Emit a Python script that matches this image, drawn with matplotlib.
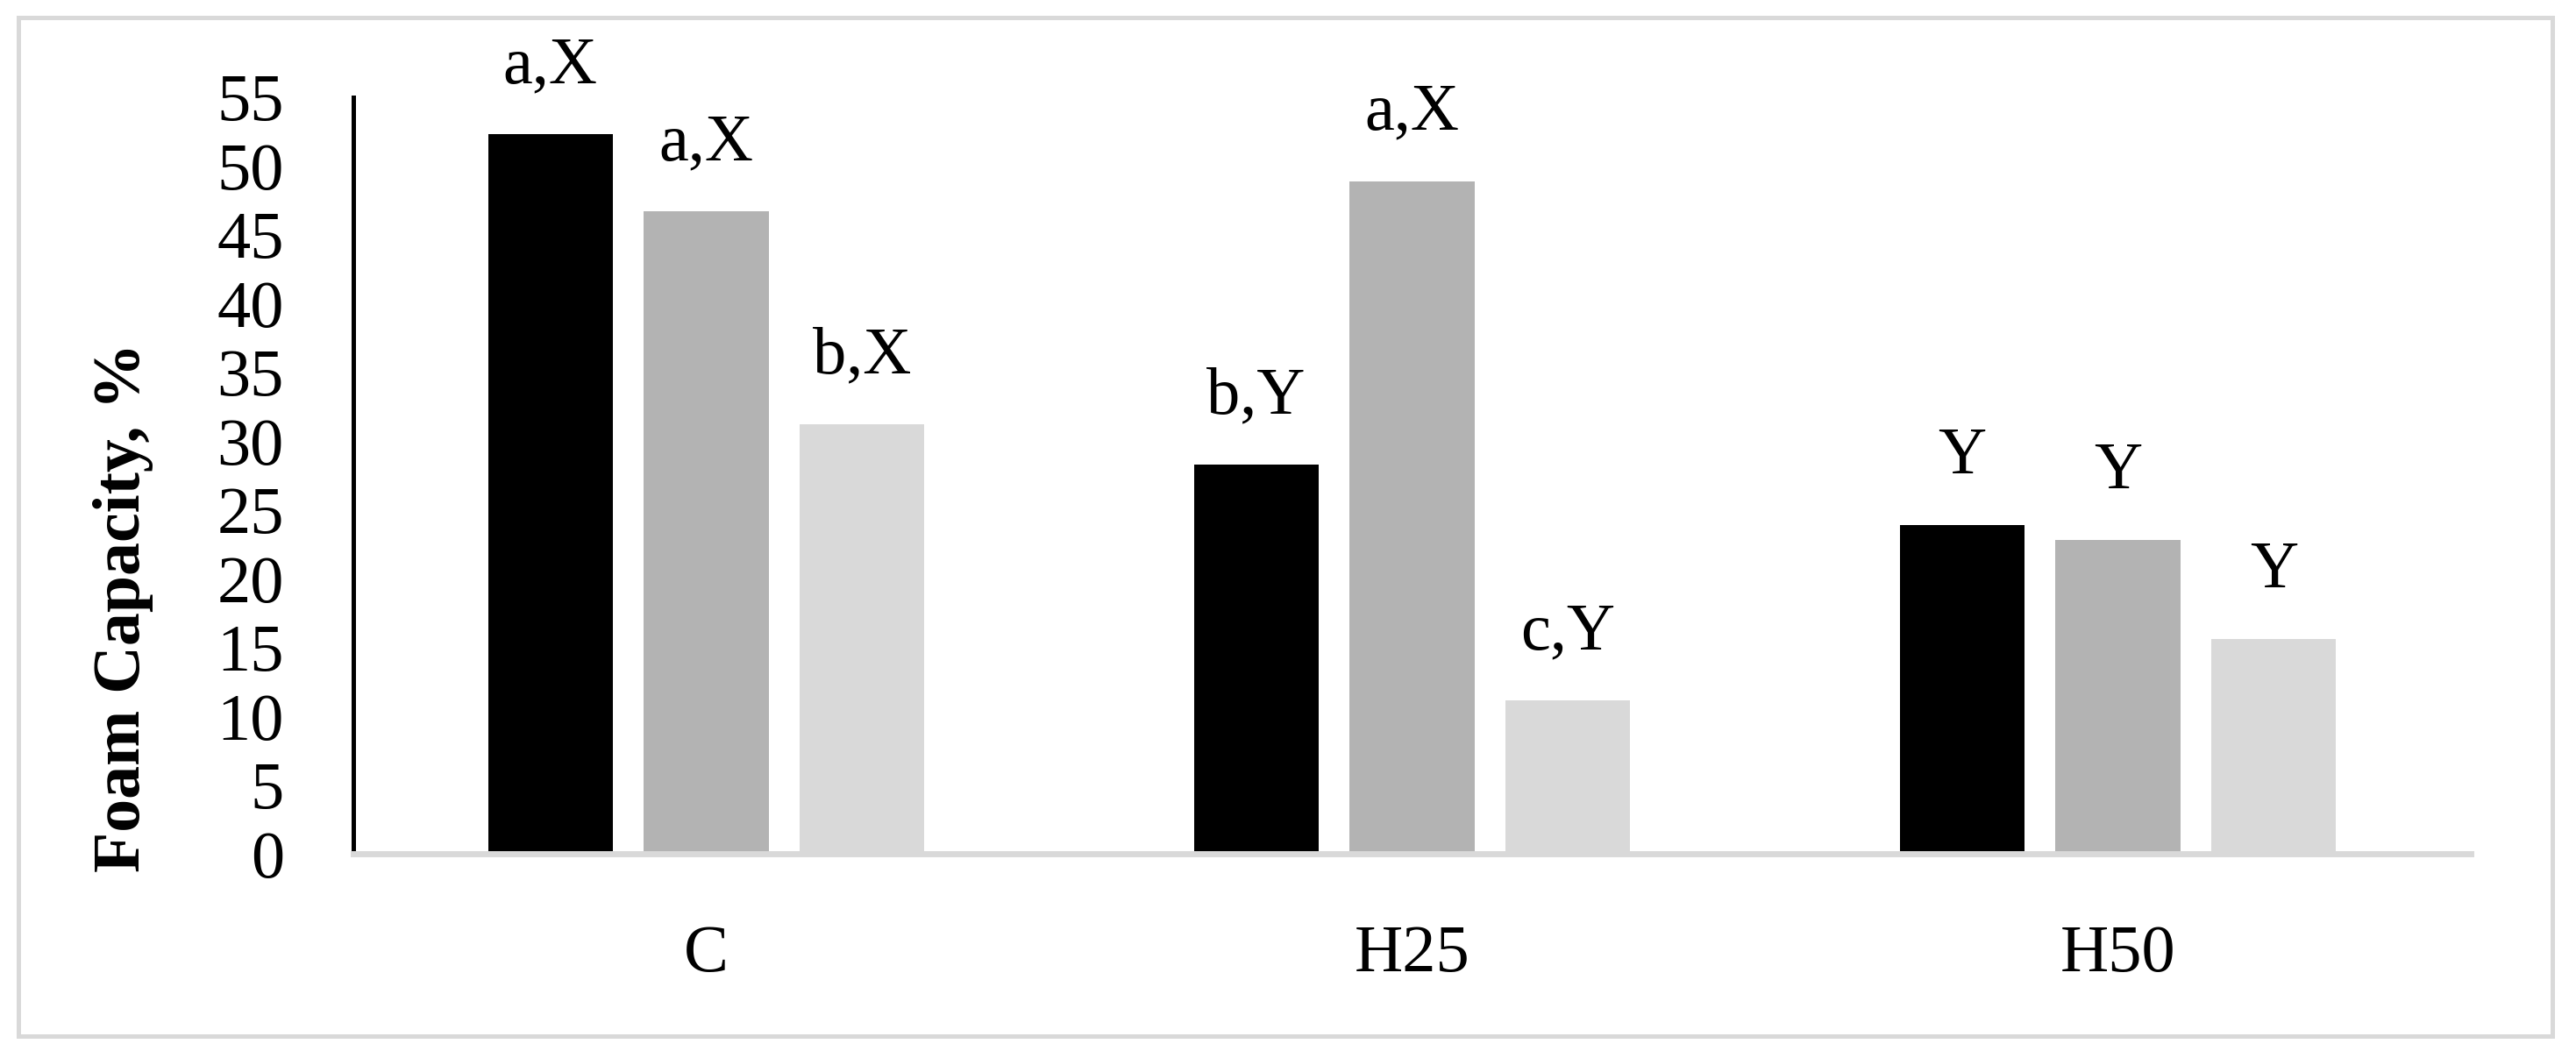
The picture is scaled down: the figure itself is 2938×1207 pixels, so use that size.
import matplotlib
matplotlib.use("Agg")
import matplotlib.pyplot as plt
from matplotlib.patches import Rectangle
import numpy as np

plt.rcParams['font.family'] = ['Liberation Serif', 'DejaVu Serif']

categories = ["C", "H25", "H50"]
series1 = [52.3, 28.3, 23.9]
series2 = [46.7, 48.9, 22.8]
series3 = [31.2, 11.15, 15.6]
labels1 = ["a,X", "b,Y", "Y"]
labels2 = ["a,X", "a,X", "Y"]
labels3 = ["b,X", "c,Y", "Y"]
yticks = [0, 5, 10, 15, 20, 25, 30, 35, 40, 45, 50, 55]
ylabel = "Foam Capacity, %"

colors = ["#000000", "#b3b3b3", "#d9d9d9"]

W, H = 2938, 1207
dpi = 100
fig = plt.figure(figsize=(W / dpi, H / dpi), dpi=dpi)

# outer border
fig.patches.append(Rectangle((21 / W, (H - 1182) / H), (2911 - 21) / W, (1182 - 20) / H,
                             transform=fig.transFigure, fill=False,
                             edgecolor="#d9d9d9", linewidth=3.6))

ax = fig.add_axes([403 / W, (H - 974) / H, 2415 / W, 863 / H])

x = np.arange(len(categories))
width = 0.1764
offset = 0.221
fs = 55

for vals, labs, col, dx in zip([series1, series2, series3],
                               [labels1, labels2, labels3],
                               colors, [-offset, 0, offset]):
    bars = ax.bar(x + dx, vals, width=width, color=col, zorder=1)
    for xi, v, lab in zip(x + dx, vals, labs):
        ax.annotate(lab, (xi, v), xytext=(0, 42.5), textcoords="offset points",
                    ha="center", va="baseline", fontsize=fs)

ax.set_xlim(-0.5, 2.5)
ax.set_ylim(0, 55)
ax.set_yticks(yticks)
ax.set_yticklabels([str(t) for t in yticks])
ax.set_xticks(x)
ax.set_xticklabels(categories)
ax.tick_params(axis="y", length=0, pad=57, labelsize=fs)
ax.tick_params(axis="x", length=0, pad=58, labelsize=fs)

for s in ["top", "right"]:
    ax.spines[s].set_visible(False)
ax.spines["left"].set_color("black")
ax.spines["left"].set_linewidth(3.6)
ax.spines["bottom"].set_color("#d9d9d9")
ax.spines["bottom"].set_linewidth(5)

fig.text(141 / W, (H - 693) / H, ylabel, rotation=90, ha="center", va="center",
         fontsize=54.5, fontweight="bold")

fig.savefig("out.png", dpi=dpi)
